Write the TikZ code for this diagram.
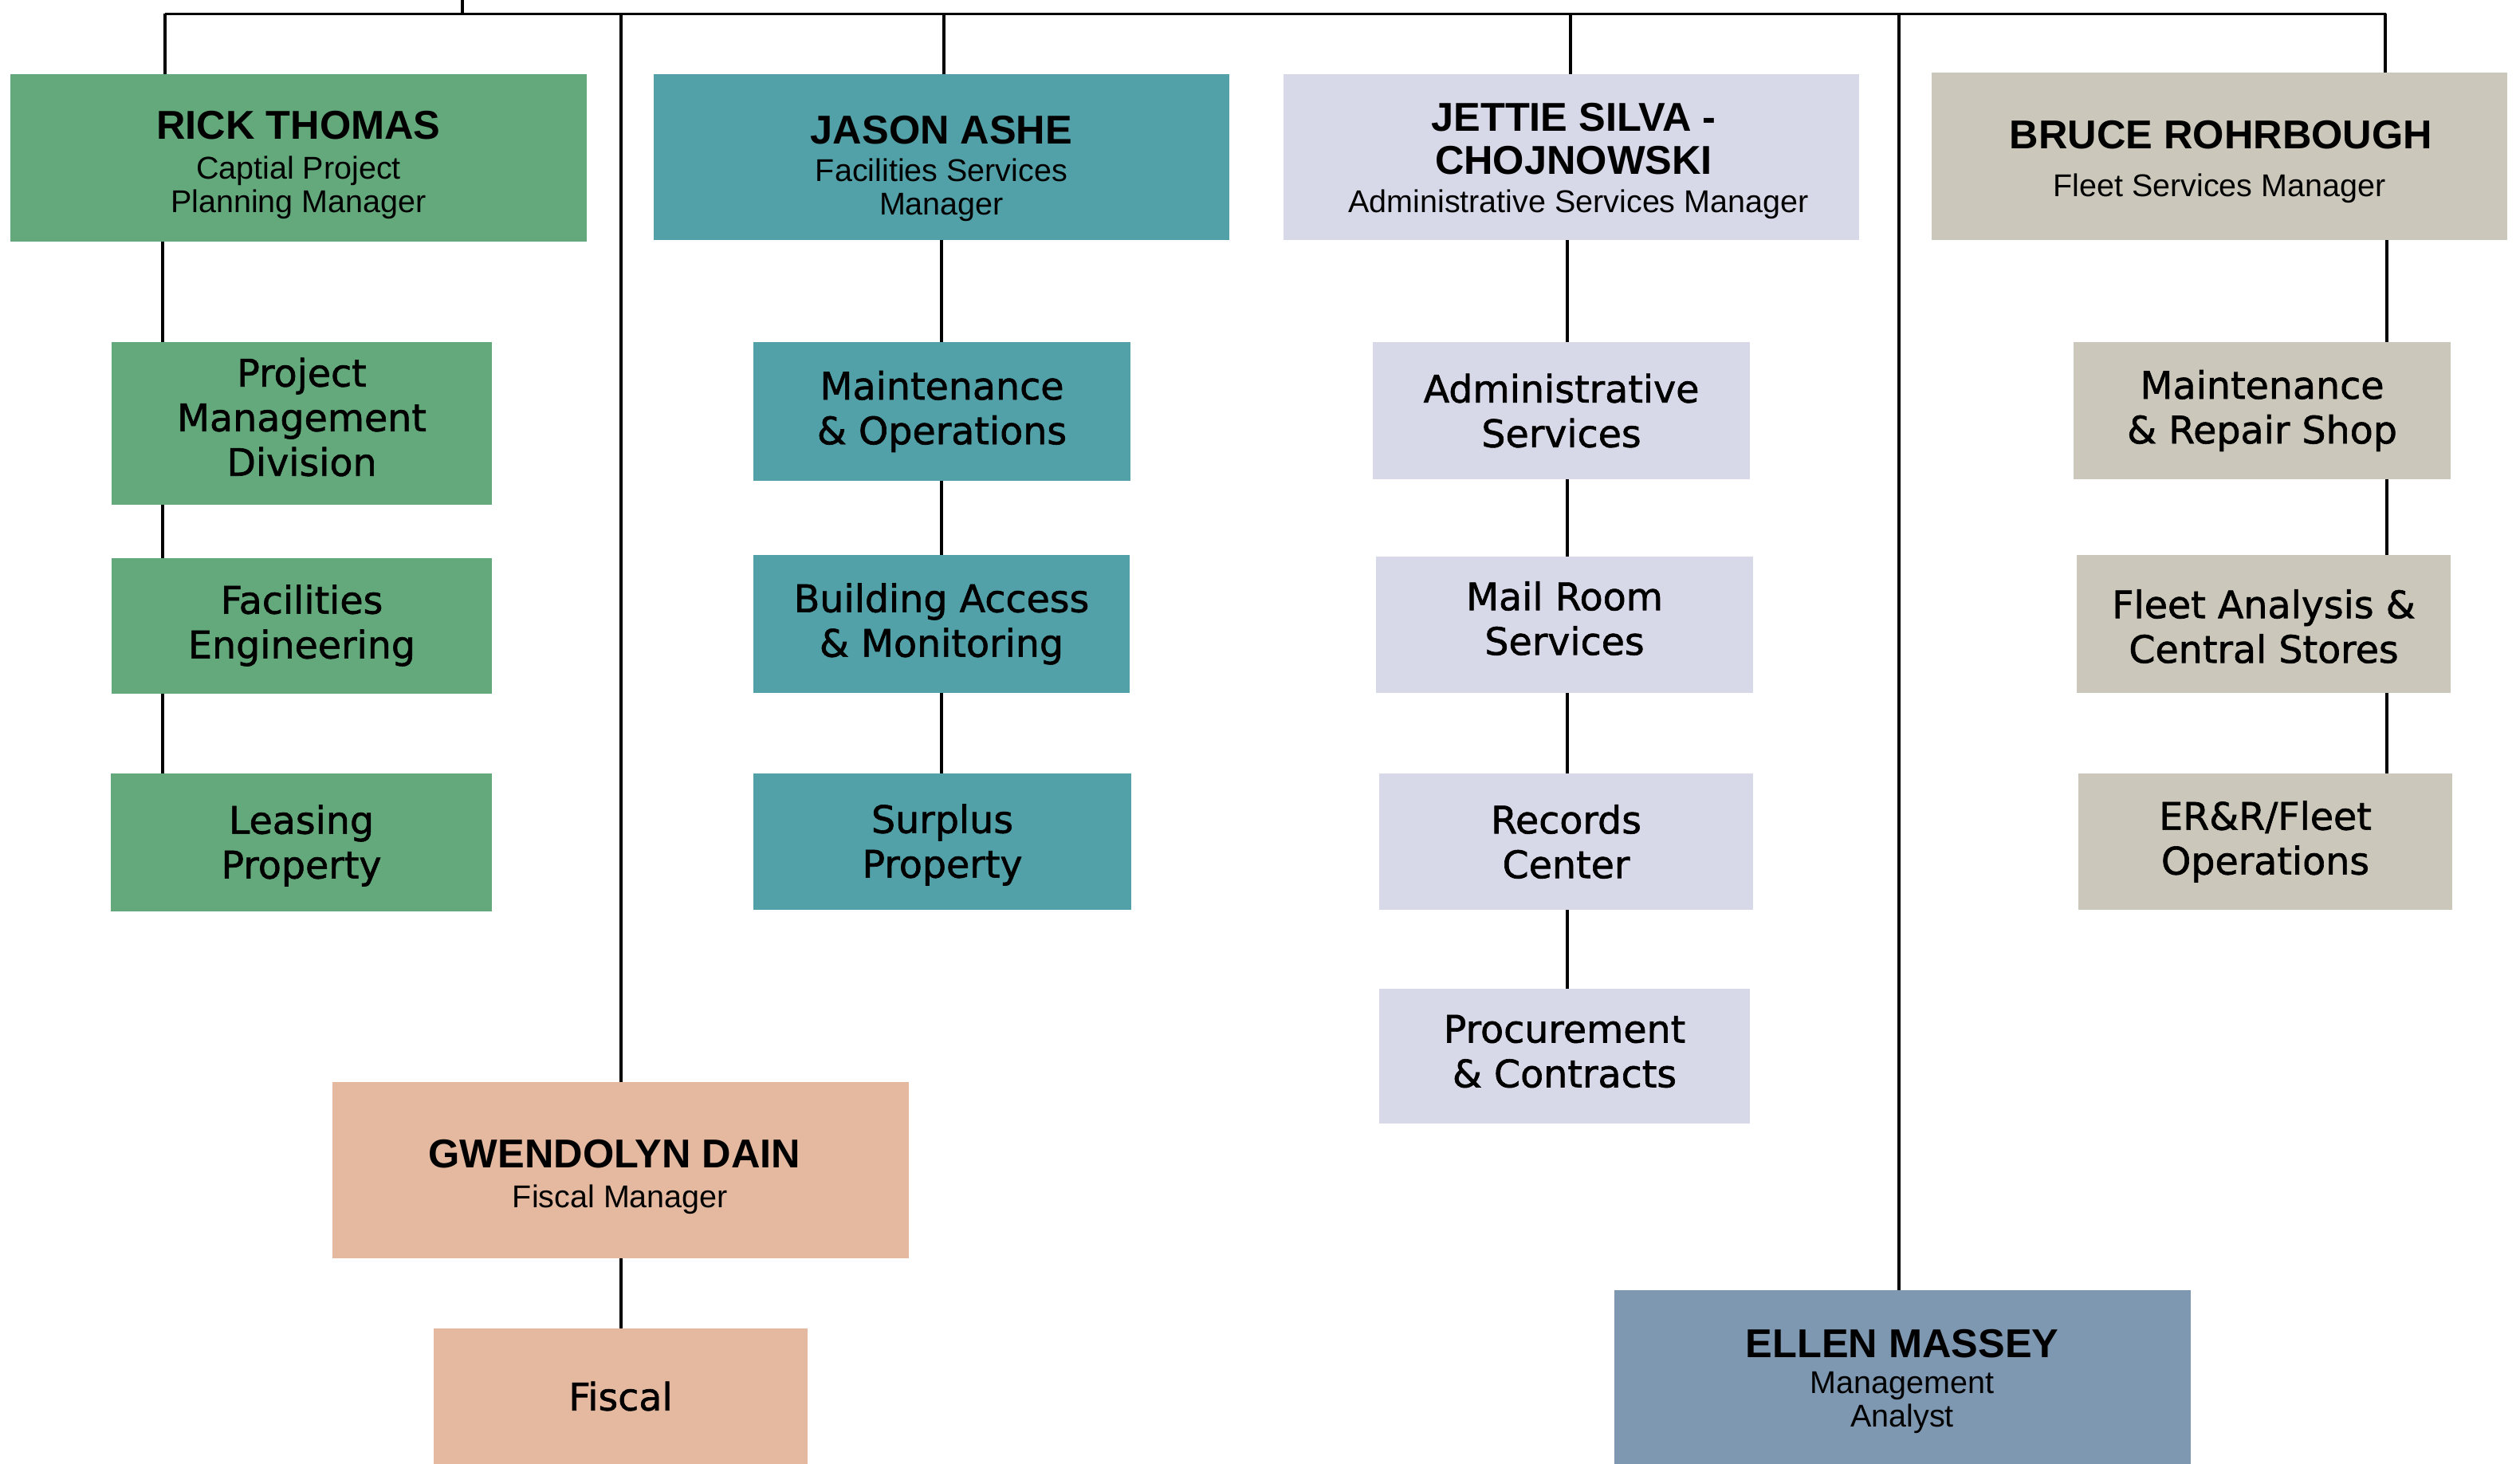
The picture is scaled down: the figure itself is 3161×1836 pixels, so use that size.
\documentclass[tikz,border=0pt]{standalone}
\usepackage{fontspec}
\setmainfont{Liberation Sans}
\newfontfamily\unitfont[FakeBold=1.3]{DejaVu Sans}

\definecolor{capgreen}{HTML}{64A97C}
\definecolor{facteal}{HTML}{52A0A8}
\definecolor{admlav}{HTML}{D8D9E8}
\definecolor{fleetbeige}{HTML}{CBC8BB}
\definecolor{fiscpeach}{HTML}{E5B9A0}
\definecolor{analystblue}{HTML}{7F98B2}

\begin{document}
\begin{tikzpicture}[x=1pt,y=-1pt,
  sz/.style 2 args={minimum width=#1pt, minimum height=#2pt},
  box/.style={inner sep=0pt, outer sep=0pt, draw=none, text=black},
  unittext/.style={inner sep=0pt, outer sep=0pt, font=\unitfont\fontsize{47.5}{56}\selectfont, align=center},
  person/.style={inner sep=0pt, outer sep=0pt, font=\bfseries\fontsize{50.5}{54}\selectfont, align=center},
  role/.style={inner sep=0pt, outer sep=0pt, font=\fontsize{39.5}{42}\selectfont, align=center},
  conn/.style={line width=3.5pt, black},
]
\useasboundingbox (0,0) rectangle (3161,1836);
\fill[white] (0,0) rectangle (3161,1836);

% ---- manager boxes ----
\node[box, sz={723}{210}, fill=capgreen]    (rick)   at (374.5,198) {};
\node[box, sz={722}{208}, fill=facteal]     (jason)  at (1181,197) {};
\node[box, sz={722}{208}, fill=admlav]      (jettie) at (1971,197) {};
\node[box, sz={722}{210}, fill=fleetbeige]  (bruce)  at (2784,196) {};
\node[box, sz={723}{221}, fill=fiscpeach]   (gwen)   at (778.5,1467.5) {};
\node[box, sz={723}{218}, fill=analystblue] (ellen)  at (2386.5,1727) {};

% ---- names and titles ----
\node[person] (rickN)   at (374.5,157) {RICK THOMAS};
\node[role]   (rickT)   at (374.5,235) {Captial Project\\Planning Manager};
\node[person] (jasonN)  at (1181,163)  {JASON ASHE};
\node[role]   (jasonT)  at (1181,238)  {Facilities Services\\Manager};
\node[person] (jettieN) at (1974,174)  {JETTIE SILVA -\\CHOJNOWSKI};
\node[role]   (jettieT) at (1980,256)  {Administrative Services Manager};
\node[person] (bruceN)  at (2786,169)  {BRUCE ROHRBOUGH};
\node[role]   (bruceT)  at (2784,236)  {Fleet Services Manager};
\node[person] (gwenN)   at (771,1447)  {GWENDOLYN DAIN};
\node[role]   (gwenT)   at (778,1504)  {Fiscal Manager};
\node[person] (ellenN)  at (2386,1685) {ELLEN MASSEY};
\node[role]   (ellenT)  at (2386,1759) {Management\\Analyst};

% ---- units: boxes ----
\node[box, sz={477}{204}, fill=capgreen] (pmd)     at (378.5,531)   {};
\node[box, sz={477}{170}, fill=capgreen] (faceng)  at (378.5,784.5) {};
\node[box, sz={478}{173}, fill=capgreen] (leasing) at (378,1056.5)  {};

\node[box, sz={473}{174}, fill=facteal] (mo)      at (1181.5,516)   {};
\node[box, sz={472}{173}, fill=facteal] (bam)     at (1181,782.5)   {};
\node[box, sz={474}{171}, fill=facteal] (surplus) at (1182,1055.5)  {};

\node[box, sz={473}{172}, fill=admlav] (admin)   at (1958.5,515)   {};
\node[box, sz={473}{171}, fill=admlav] (mail)    at (1962.5,783.5) {};
\node[box, sz={469}{171}, fill=admlav] (records) at (1964.5,1055.5){};
\node[box, sz={465}{169}, fill=admlav] (proc)    at (1962.5,1324.5){};

\node[box, sz={473}{172}, fill=fleetbeige] (mr)    at (2837.5,515)   {};
\node[box, sz={469}{173}, fill=fleetbeige] (fleet) at (2839.5,782.5) {};
\node[box, sz={469}{171}, fill=fleetbeige] (err)   at (2841.5,1055.5){};

\node[box, sz={469}{170}, fill=fiscpeach] (fiscal) at (778.5,1751) {};

% ---- units: labels (yshift is in page points, positive = up) ----
\node[unittext] (pmdL)     at ([yshift=8pt]pmd.center)      {Project\\Management\\Division};
\node[unittext] (facengL)  at (faceng.center)               {Facilities\\Engineering};
\node[unittext] (leasingL) at ([yshift=-4pt]leasing.center) {Leasing\\Property};
\node[unittext] (moL)      at (mo.center)                   {Maintenance\\\& Operations};
\node[unittext] (bamL)     at (bam.center)                  {Building Access\\\& Monitoring};
\node[unittext] (surplusL) at ([yshift=-4pt]surplus.center) {Surplus\\Property};
\node[unittext] (adminL)   at (admin.center)                {Administrative\\Services};
\node[unittext] (mailL)    at ([yshift=8pt]mail.center)     {Mail Room\\Services};
\node[unittext] (recordsL) at (records.center)              {Records\\Center};
\node[unittext] (procL)    at ([yshift=6pt]proc.center)     {Procurement\\\& Contracts};
\node[unittext] (mrL)      at (mr.center)                   {Maintenance\\\& Repair Shop};
\node[unittext] (fleetL)   at ([yshift=-3pt]fleet.center)   {Fleet Analysis \&\\Central Stores};
\node[unittext] (errL)     at (err.center)                  {ER\&R/Fleet\\Operations};
\node[unittext] (fiscalL)  at (fiscal.center)               {Fiscal};

% ---- connector guides ----
\coordinate (root) at (580,0);
\coordinate (busL) at (207,17.5);
\coordinate (busR) at (2993,17.5);
\coordinate (dropGwen)   at (779,17.5);
\coordinate (dropJason)  at (1184,17.5);
\coordinate (dropJettie) at (1970,17.5);
\coordinate (dropEllen)  at (2382,17.5);
\coordinate (dropBruce)  at (2992,17.5);
\coordinate (colRick)   at (204,0);
\coordinate (colJason)  at (1181,0);
\coordinate (colJettie) at (1966,0);
\coordinate (colBruce)  at (2994,0);
\coordinate (colGwen)   at (779,0);

% ---- top bus ----
\draw[conn] (root) -- (root |- busL);
\draw[conn] (busL) -- (busR);
\draw[conn] (busL) -- (rick.north -| busL);
\draw[conn] (dropGwen) -- (gwen.north -| dropGwen);
\draw[conn] (dropJason) -- (jason.north -| dropJason);
\draw[conn] (dropJettie) -- (jettie.north -| dropJettie);
\draw[conn] (dropEllen) -- (ellen.north -| dropEllen);
\draw[conn] (dropBruce) -- (bruce.north -| dropBruce);

% ---- columns ----
\draw[conn] (rick.south -| colRick) -- (pmd.north -| colRick);
\draw[conn] (pmd.south -| colRick) -- (faceng.north -| colRick);
\draw[conn] (faceng.south -| colRick) -- (leasing.north -| colRick);

\draw[conn] (jason.south -| colJason) -- (mo.north -| colJason);
\draw[conn] (mo.south -| colJason) -- (bam.north -| colJason);
\draw[conn] (bam.south -| colJason) -- (surplus.north -| colJason);

\draw[conn] (jettie.south -| colJettie) -- (admin.north -| colJettie);
\draw[conn] (admin.south -| colJettie) -- (mail.north -| colJettie);
\draw[conn] (mail.south -| colJettie) -- (records.north -| colJettie);
\draw[conn] (records.south -| colJettie) -- (proc.north -| colJettie);

\draw[conn] (bruce.south -| colBruce) -- (mr.north -| colBruce);
\draw[conn] (mr.south -| colBruce) -- (fleet.north -| colBruce);
\draw[conn] (fleet.south -| colBruce) -- (err.north -| colBruce);

\draw[conn] (gwen.south -| colGwen) -- (fiscal.north -| colGwen);
\end{tikzpicture}
\end{document}
